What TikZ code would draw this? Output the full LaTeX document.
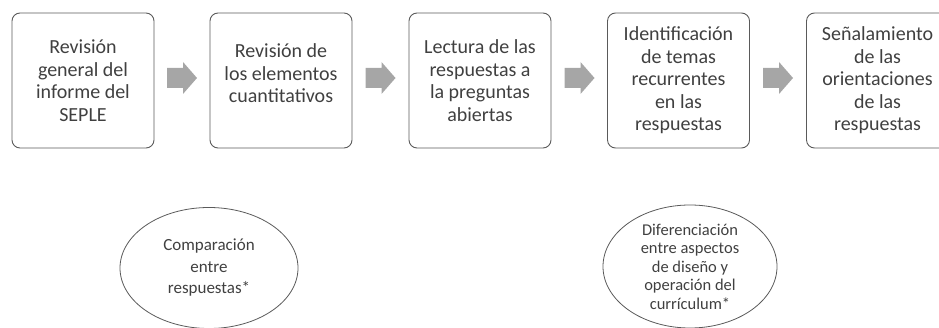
\documentclass[tikz,border=0pt]{standalone}
\usepackage{fontspec}
\setmainfont{Carlito}
\usetikzlibrary{shapes.geometric}
\definecolor{txt}{HTML}{404040}
\definecolor{edge}{HTML}{5A5A5A}
\definecolor{arr}{HTML}{A6A6A6}
\begin{document}
\begin{tikzpicture}[x=1pt,y=-1pt,
  stepbox/.style={draw=edge, line width=0.9pt, rounded corners=8pt, minimum width=142pt, minimum height=135pt,
     align=center, text=txt, font=\fontsize{20}{22.5}\selectfont, inner sep=0pt},
  boxtext/.style={align=center, text=txt, font=\fontsize{20}{22.5}\selectfont, inner sep=0pt},
  blockarrow/.pic={\fill[arr] (-15,-10) -- (1,-10) -- (1,-16) -- (15,0) -- (1,16) -- (1,10) -- (-15,10) -- cycle;},
  oval/.style={ellipse, draw=edge, line width=0.8pt, align=center, text=txt, inner sep=0pt}]
\useasboundingbox (0,0) rectangle (939,328);
\begin{scope}
\clip (0,0) rectangle (939,328);
\node[stepbox] (b1) at (83,80.5) {Revisión\\general del\\informe del\\SEPLE};
\node[stepbox] (b2) at (281,80.5) {};
\node[boxtext] (t2) at (281,73.5) {Revisión de\\los elementos\\cuantitativos};
\node[stepbox] (b3) at (480,80.5) {Lectura de las\\respuestas a\\la preguntas\\abiertas};
\node[stepbox] (b4) at (678.5,80.5) {Identificación\\de temas\\recurrentes\\en las\\respuestas};
\node[stepbox] (b5) at (877.5,80.5) {Señalamiento\\de las\\orientaciones\\de las\\respuestas};
\pic (a1) at (182,78) {blockarrow};
\pic (a2) at (380.5,78) {blockarrow};
\pic (a3) at (579.5,78) {blockarrow};
\pic (a4) at (778,78) {blockarrow};
\node[oval, minimum width=178pt, minimum height=121pt, font=\fontsize{17}{21.5}\selectfont] (e1) at (209,268)
  {Comparación\\entre\\respuestas*};
\node[oval, minimum width=174pt, minimum height=123pt, font=\fontsize{16.5}{18.5}\selectfont] (e2) at (690,266.5)
  {Diferenciación\\entre aspectos\\de diseño y\\operación del\\currículum*};
\end{scope}
\end{tikzpicture}
\end{document}
